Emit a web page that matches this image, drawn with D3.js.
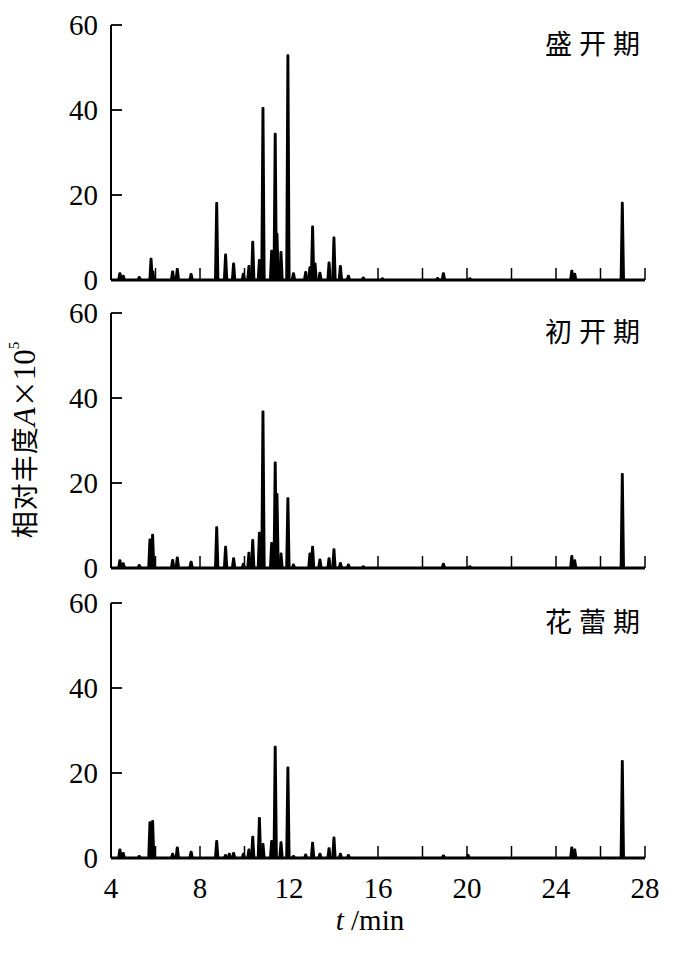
<!DOCTYPE html>
<html><head><meta charset="utf-8">
<script src="https://cdn.jsdelivr.net/npm/d3@7"></script>
<style>body{margin:0;background:#fff}</style>
</head><body><svg id="c" width="700" height="974"></svg>
<script>
// ---- data ----
const stages = ["盛开期", "初开期", "花蕾期"];
const xTickLabels = [4, 8, 12, 16, 20, 24, 28];
const xMinorTicks = [6, 10, 14, 18, 22, 26];
const yTickLabels = [0, 20, 40, 60];

// [retention time (min), relative abundance ×10^5]
const peaksFull = [
  [4.40,1.6],[4.55,1.0],[5.27,0.7],[5.80,5.0],[5.88,2.0],[6.77,2.0],[6.98,2.6],[7.60,1.4],
  [8.75,18.1],[9.15,6.0],[9.51,3.9],[9.95,1.5],[10.20,3.3],[10.37,9.0],[10.67,4.7],[10.83,40.5],
  [11.22,6.9],[11.38,34.4],[11.46,10.9],[11.64,6.6],[11.95,52.9],[12.20,1.6],[12.75,1.9],[12.94,3.0],
  [13.06,12.6],[13.17,3.9],[13.39,1.7],[13.80,4.1],[14.02,10.0],[14.31,3.3],[14.67,1.0],[15.34,0.6],
  [16.20,0.4],[18.68,0.5],[18.94,1.6],[20.13,0.4],[24.71,2.2],[24.84,1.5],[26.98,18.2]
];
const peaksEarly = [
  [4.40,1.8],[4.55,1.1],[5.27,0.7],[5.75,6.7],[5.87,7.8],[6.77,1.9],[6.98,2.5],[7.60,1.5],
  [8.75,9.6],[9.15,5.0],[9.51,2.3],[9.95,1.0],[10.20,3.6],[10.37,6.6],[10.67,8.3],[10.83,36.8],
  [11.22,5.9],[11.38,24.8],[11.46,17.4],[11.64,3.4],[11.95,16.4],[12.20,0.8],[12.94,3.4],[13.06,5.0],
  [13.39,2.0],[13.80,2.3],[14.02,4.4],[14.31,1.2],[14.67,0.8],[15.34,0.4],[18.94,1.0],[20.13,0.4],
  [24.71,2.8],[24.84,1.8],[26.98,22.1]
];
const peaksBud = [
  [4.40,2.0],[4.55,1.2],[5.27,0.5],[5.75,8.4],[5.87,8.7],[6.77,1.0],[6.98,2.5],[7.60,1.5],
  [8.75,4.0],[9.15,0.7],[9.32,1.0],[9.51,1.2],[9.95,1.0],[10.20,2.0],[10.37,5.0],[10.67,9.4],
  [10.83,3.3],[11.22,4.0],[11.38,26.2],[11.64,3.7],[11.95,21.3],[12.20,0.5],[12.75,0.8],[13.06,3.6],
  [13.39,1.0],[13.80,2.3],[14.02,4.8],[14.31,1.0],[14.67,0.7],[18.94,0.6],[20.05,0.7],
  [24.71,2.5],[24.84,2.0],[26.98,22.8]
];
const panelPeaks = [peaksFull, peaksEarly, peaksBud];

// ---- layout ----
const svg = d3.select("#c");
const serif = "'Liberation Serif','Times New Roman',serif";
const cjk = "'Noto Sans CJK SC','Noto Sans CJK JP',sans-serif";
const x = d3.scaleLinear().domain([4, 28]).range([111, 645]);
const baselines = [280, 568, 858];
const panelH = 255;
const hw = 0.075, tw = 0.02;

panelPeaks.forEach((peaks, i) => {
  const y0 = baselines[i];
  const y = d3.scaleLinear().domain([0, 60]).range([y0, y0 - panelH]);
  const g = svg.append("g");

  g.append("line").attr("x1", x(4)).attr("x2", x(4)).attr("y1", y(0)).attr("y2", y(60))
    .attr("stroke", "#000").attr("stroke-width", 2);
  g.selectAll(".yt").data(yTickLabels).join("line")
    .attr("x1", x(4)).attr("x2", x(4) + 11).attr("y1", d => y(d)).attr("y2", d => y(d))
    .attr("stroke", "#000").attr("stroke-width", 1.8);
  g.selectAll(".yl").data(yTickLabels).join("text")
    .attr("x", x(4) - 13).attr("y", d => y(d)).attr("dy", "0.35em")
    .attr("text-anchor", "end").attr("font-family", serif).attr("font-size", 29)
    .text(d => d);

  g.selectAll(".xt").data(xTickLabels.concat(xMinorTicks)).join("line")
    .attr("x1", d => x(d)).attr("x2", d => x(d)).attr("y1", y(0)).attr("y2", y(0) - 12)
    .attr("stroke", "#000").attr("stroke-width", 1.5);

  g.append("line").attr("x1", x(4)).attr("x2", x(28)).attr("y1", y(0)).attr("y2", y(0))
    .attr("stroke", "#000").attr("stroke-width", 3.2);

  const line = d3.line().x(d => x(d[0])).y(d => y(d[1]));
  g.selectAll(".pk").data(peaks).join("path")
    .attr("d", d => line([[d[0] - hw, 0], [d[0] - tw, d[1]], [d[0] + tw, d[1]], [d[0] + hw, 0]]))
    .attr("fill", "#000").attr("stroke", "#000").attr("stroke-width", 2)
    .attr("stroke-linejoin", "round");

  g.append("text").attr("x", 545).attr("y", y(60) + 29)
    .attr("font-family", cjk).attr("font-size", 27).attr("letter-spacing", 7)
    .text(stages[i]);

  if (i === 2) {
    g.selectAll(".xl").data(xTickLabels).join("text")
      .attr("x", d => x(d)).attr("y", y(0) + 40).attr("text-anchor", "middle")
      .attr("font-family", serif).attr("font-size", 29).text(d => d);
  }
});

// x axis title
const xt = svg.append("text").attr("x", 370).attr("y", 930).attr("text-anchor", "middle")
  .attr("font-family", serif).attr("font-size", 29);
xt.append("tspan").attr("font-style", "italic").text("t");
xt.append("tspan").text(" /min");

// y axis title
const yt = svg.append("text").attr("transform", "translate(35,440) rotate(-90)")
  .attr("text-anchor", "middle");
yt.append("tspan").attr("font-family", cjk).attr("font-size", 27).attr("letter-spacing", 1).text("相对丰度");
yt.append("tspan").attr("font-family", serif).attr("font-style", "italic").attr("font-size", 31).text("A");
yt.append("tspan").attr("font-family", cjk).attr("font-size", 27).text("×");
yt.append("tspan").attr("font-family", serif).attr("font-size", 31).text("10");
yt.append("tspan").attr("font-family", serif).attr("font-size", 15).attr("dy", -16).text("5");
</script></body></html>
